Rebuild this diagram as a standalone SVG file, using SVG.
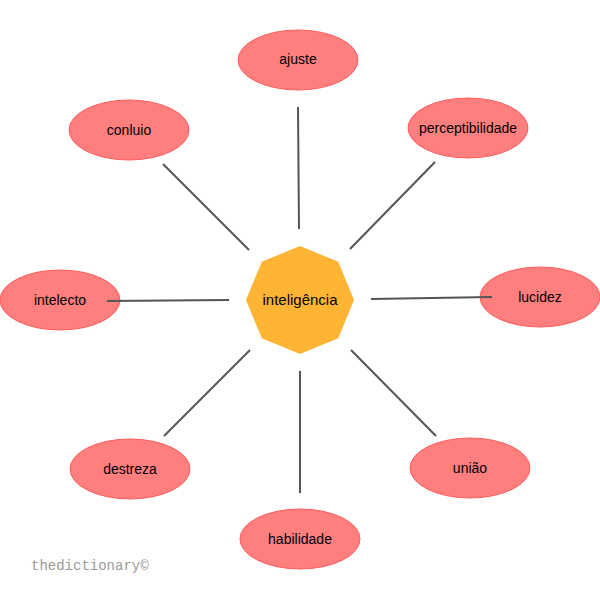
<svg xmlns="http://www.w3.org/2000/svg" width="600" height="600" viewBox="0 0 600 600">
<style>
.n ellipse{fill:#FF7F7F;stroke:#FF5C5C;stroke-width:1}
.t{font-family:"Liberation Sans",Arial,sans-serif;font-size:14px;fill:#000;text-anchor:middle;dominant-baseline:central}
.c line{stroke:#555;stroke-width:2}
</style>
<rect width="600" height="600" fill="#fff"/>
<g id="center">
<polygon points="300,246 338.2,261.8 354,300 338.2,338.2 300,354 261.8,338.2 246,300 261.8,261.8" fill="#FFB533"/>
<text class="t" x="300" y="299" style="font-size:15px">inteligência</text>
</g>
<g class="n" id="n-ajuste"><ellipse cx="298" cy="60" rx="60" ry="30"/><text class="t" x="298" y="59">ajuste</text></g>
<g class="n" id="n-perceptibilidade"><ellipse cx="468" cy="128" rx="60" ry="30"/><text class="t" x="468" y="128">perceptibilidade</text></g>
<g class="n" id="n-conluio"><ellipse cx="129" cy="130" rx="60" ry="30"/><text class="t" x="129" y="130">conluio</text></g>
<g class="n" id="n-intelecto"><ellipse cx="60" cy="300" rx="60" ry="30"/><text class="t" x="60" y="300">intelecto</text></g>
<g class="n" id="n-lucidez"><ellipse cx="540" cy="297" rx="60" ry="30"/><text class="t" x="540" y="297">lucidez</text></g>
<g class="n" id="n-destreza"><ellipse cx="130" cy="469" rx="60" ry="30"/><text class="t" x="130" y="469">destreza</text></g>
<g class="n" id="n-uniao"><ellipse cx="470" cy="468" rx="60" ry="30"/><text class="t" x="470" y="468">união</text></g>
<g class="n" id="n-habilidade"><ellipse cx="300" cy="539" rx="60" ry="30"/><text class="t" x="300" y="539">habilidade</text></g>
<g class="c" id="connectors">
<line x1="298" y1="107" x2="299" y2="229"/>
<line x1="435" y1="162" x2="350" y2="249"/>
<line x1="163" y1="164" x2="249" y2="250"/>
<line x1="107" y1="301" x2="229" y2="300"/>
<line x1="371" y1="299" x2="492" y2="297"/>
<line x1="164" y1="436" x2="250" y2="350"/>
<line x1="436" y1="436" x2="351" y2="350"/>
<line x1="300" y1="371" x2="300" y2="493"/>
</g>
<text x="31" y="570" style="font-family:'Liberation Mono','Courier New',monospace;font-size:14px;fill:#999">thedictionary©</text>
</svg>
